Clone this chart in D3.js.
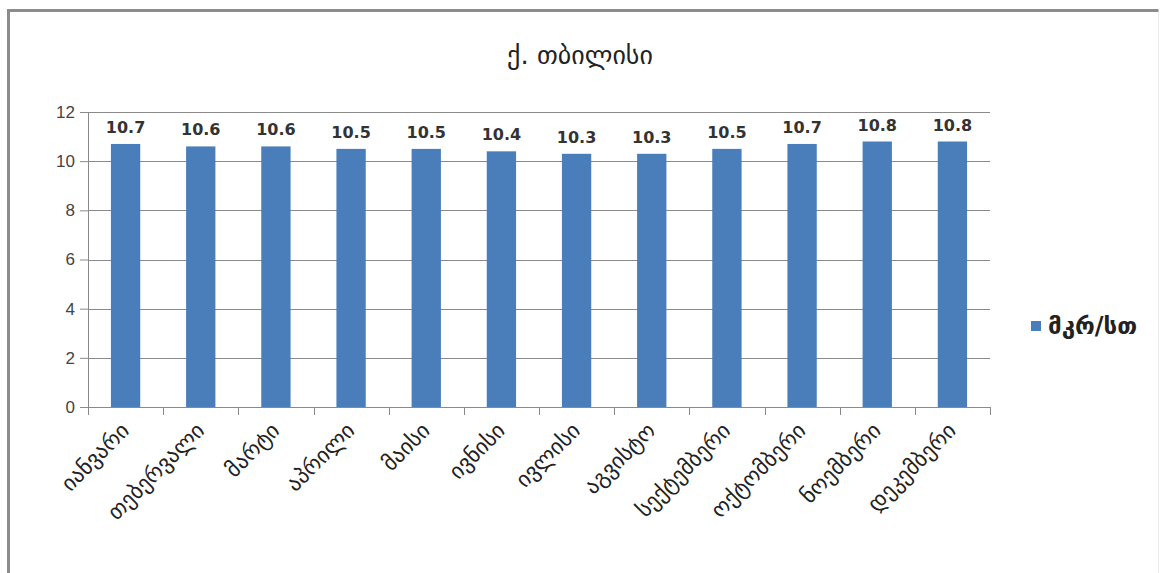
<!DOCTYPE html>
<html>
<head>
<meta charset="utf-8">
<script src="https://cdn.jsdelivr.net/npm/d3@7"></script>
<style>
  body { margin: 0; background: #fff; }
  svg { display: block; font-family: "DejaVu Sans", sans-serif; }
</style>
</head>
<body>
<svg id="chart" width="1162" height="573"></svg>
<script>
const months = ["იანვარი", "თებერვალი", "მარტი", "აპრილი", "მაისი", "ივნისი",
	"ივლისი", "აგვისტო", "სექტემბერი", "ოქტომბერი", "ნოემბერი", "დეკემბერი"]
const values = [10.7, 10.6, 10.6, 10.5, 10.5, 10.4, 10.3, 10.3, 10.5, 10.7, 10.8, 10.8]
const yTicks = [0, 2, 4, 6, 8, 10, 12]
const seriesName = "მკრ/სთ"
const chartTitle = "ქ. თბილისი"

const dims = {
	width: 1162,
	height: 573,
	margin: {top: 112, left: 88, right: 172, bottom: 166}
}
const innerW = dims.width - dims.margin.left - dims.margin.right
const innerH = dims.height - dims.margin.top - dims.margin.bottom

const svg = d3.select("#chart")

// frame
svg.append("path")
	.attr("d", "M8.5,573 L8.5,10.5 L1158.5,10.5")
	.attr("fill", "none")
	.attr("stroke", "#8c8c8c")
	.attr("stroke-width", 3)
svg.append("line")
	.attr("x1", 1158.5).attr("x2", 1158.5).attr("y1", 12).attr("y2", 573)
	.attr("stroke", "#ececec")

svg.append("text")
	.attr("x", 580).attr("y", 64)
	.attr("text-anchor", "middle")
	.attr("font-size", 26)
	.attr("fill", "#222")
	.text(chartTitle)

const g = svg.append("g")
	.attr("transform", `translate(${dims.margin.left},${dims.margin.top})`)

const x = d3.scaleBand().domain(months).range([0, innerW])
const y = d3.scaleLinear().domain([0, 12]).range([innerH, 0])

// gridlines
g.append("g")
	.selectAll("line")
	.data(yTicks.filter(d => d > 0))
	.join("line")
		.attr("x1", 0).attr("x2", innerW)
		.attr("y1", d => Math.round(y(d)) + 0.5)
		.attr("y2", d => Math.round(y(d)) + 0.5)
		.attr("stroke", "#8a8a8a")

// y axis
const yAxis = g.append("g")
	.call(d3.axisLeft(y).tickValues(yTicks).tickSize(8).tickPadding(5))
yAxis.select(".domain").attr("stroke", "#8a8a8a").attr("d", `M0.5,${innerH}V0`)
yAxis.selectAll(".tick line").attr("stroke", "#8a8a8a")
yAxis.selectAll("text")
	.attr("font-size", 17)
	.attr("fill", "#444")

// x axis
const xAxisG = g.append("g").attr("transform", `translate(0,${innerH})`)
xAxisG.append("line")
	.attr("x1", -8).attr("x2", innerW)
	.attr("y1", 0.5).attr("y2", 0.5)
	.attr("stroke", "#8a8a8a")
xAxisG.selectAll(".xtick")
	.data(d3.range(months.length + 1))
	.join("line")
		.attr("x1", i => Math.round(i * x.bandwidth()) + 0.5)
		.attr("x2", i => Math.round(i * x.bandwidth()) + 0.5)
		.attr("y1", 0).attr("y2", 8)
		.attr("stroke", "#8a8a8a")
xAxisG.selectAll(".xlabel")
	.data(months)
	.join("text")
		.attr("transform", d => `translate(${x(d) + x.bandwidth() / 2 + 5},${25}) rotate(-45)`)
		.attr("text-anchor", "end")
		.attr("font-size", 22)
		.attr("fill", "#222")
		.text(d => d)

// bars
const barW = x.bandwidth() * 0.39
g.selectAll(".bar")
	.data(values)
	.join("rect")
		.attr("x", (d, i) => x(months[i]) + (x.bandwidth() - barW) / 2)
		.attr("y", d => y(d))
		.attr("width", barW)
		.attr("height", d => innerH - y(d))
		.attr("fill", "#4a7ebb")

// value labels
g.selectAll(".val")
	.data(values)
	.join("text")
		.attr("x", (d, i) => x(months[i]) + x.bandwidth() / 2)
		.attr("y", d => y(d) - 11)
		.attr("text-anchor", "middle")
		.attr("font-size", 16)
		.attr("font-weight", "bold")
		.attr("fill", "#333")
		.text(d => d3.format(".1f")(d))

// legend
const legend = svg.append("g").attr("transform", "translate(1031,326)")
legend.append("rect")
	.attr("x", 0).attr("y", -5)
	.attr("width", 10).attr("height", 10)
	.attr("fill", "#4a7ebb")
legend.append("text")
	.attr("x", 17).attr("y", 8)
	.attr("font-size", 24)
	.attr("font-weight", "bold")
	.attr("fill", "#222")
	.text(seriesName)
</script>
</body>
</html>
